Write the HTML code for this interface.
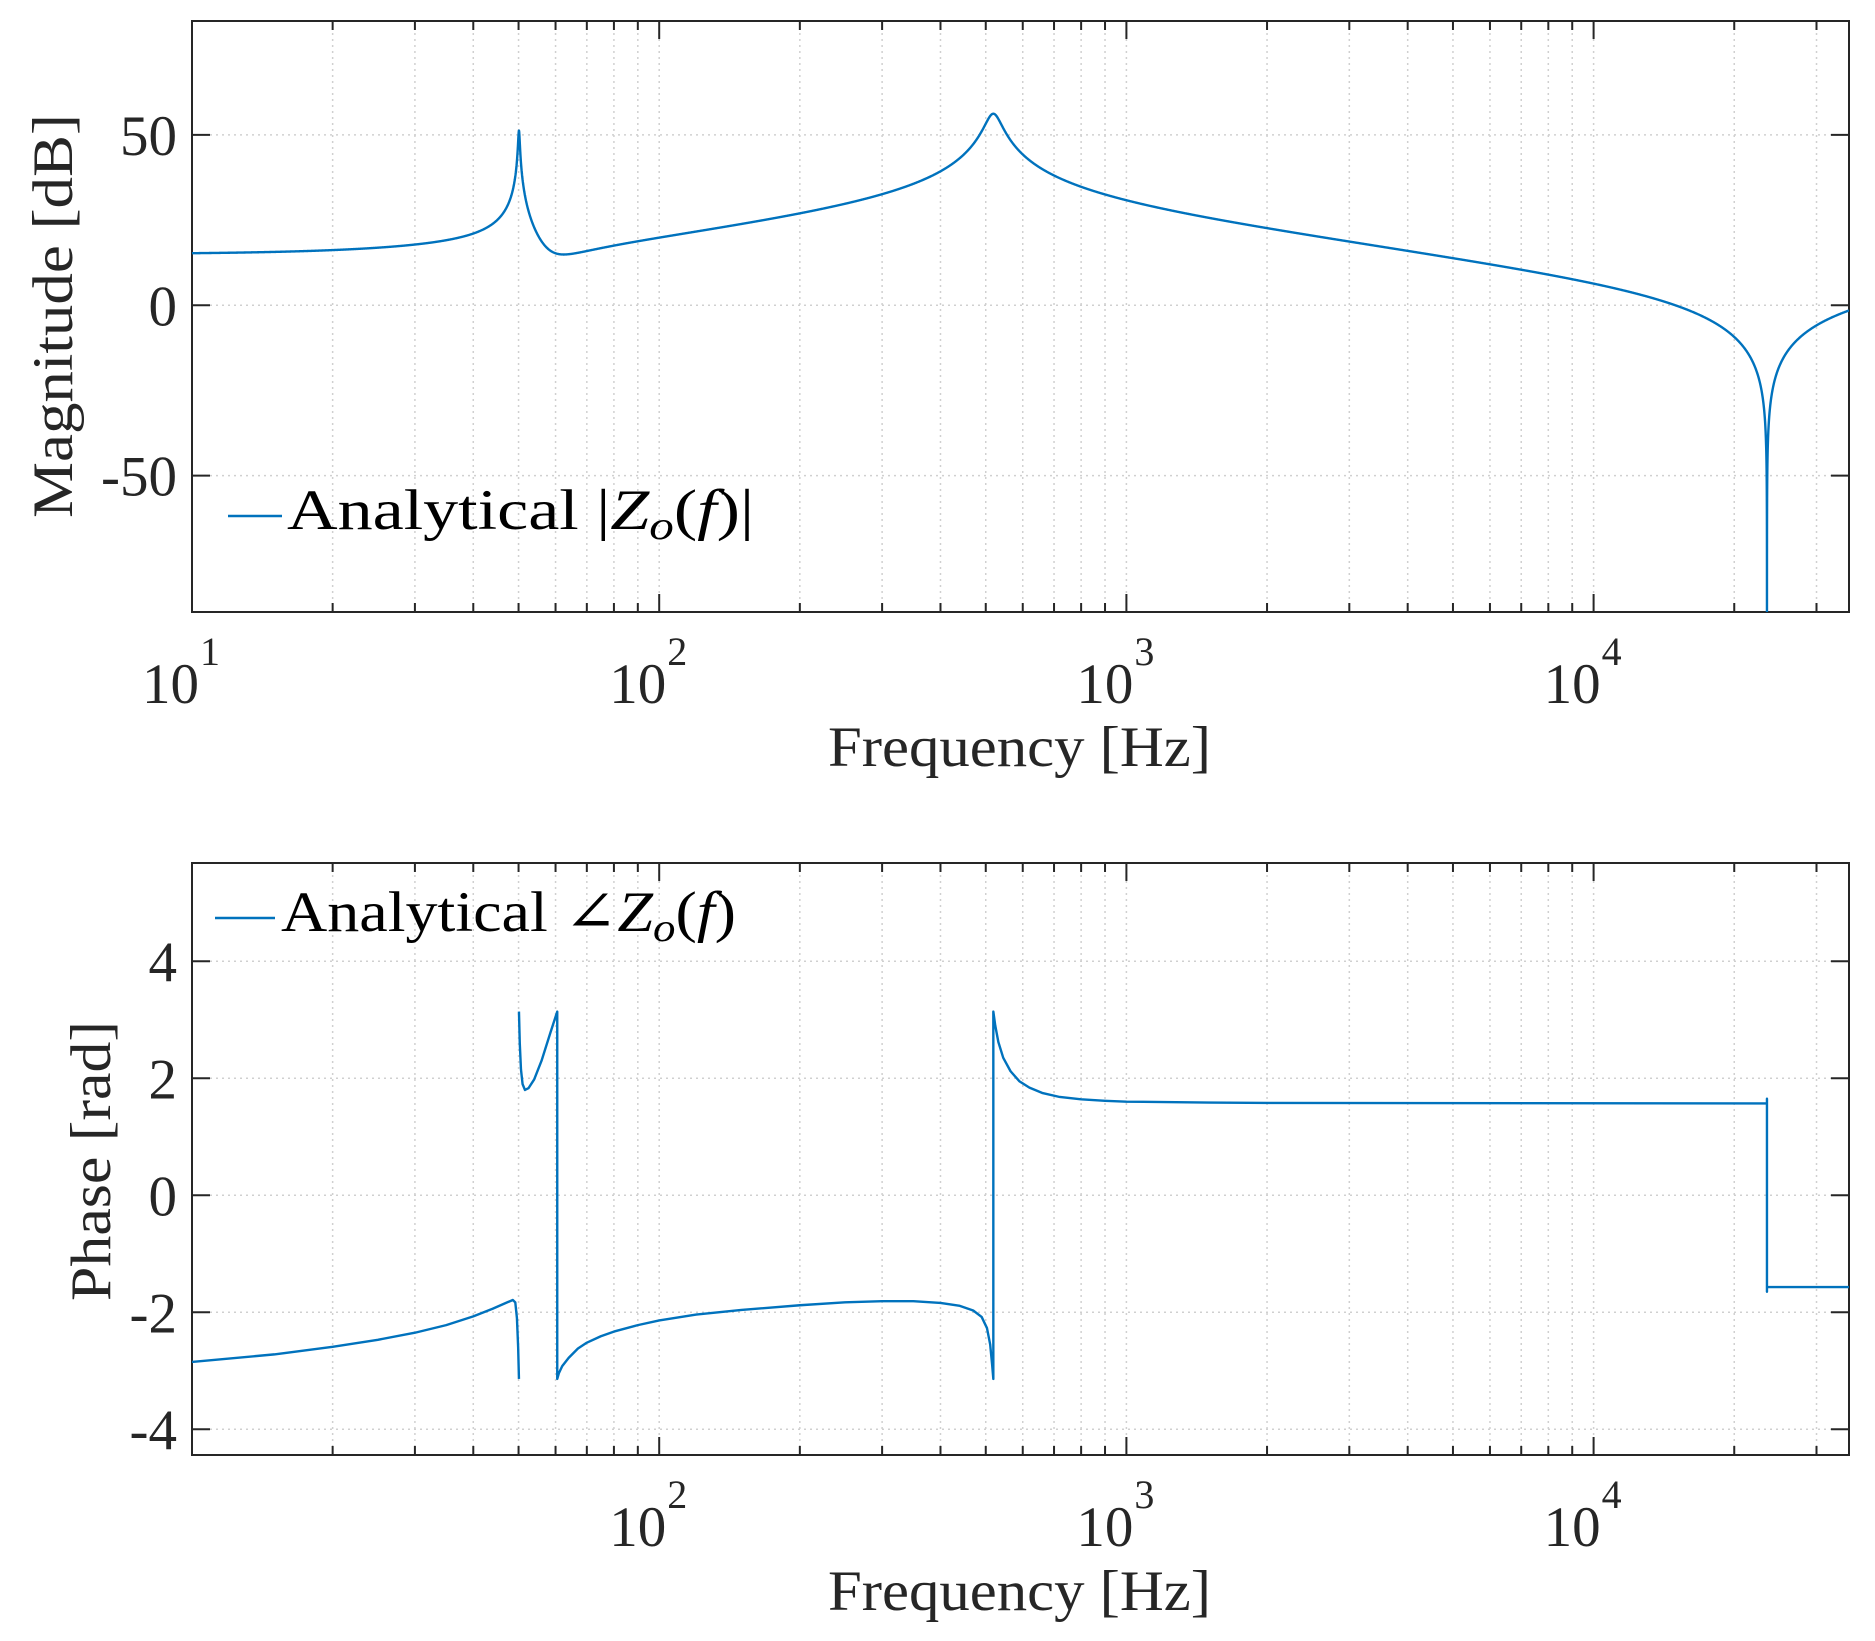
<!DOCTYPE html>
<html><head><meta charset="utf-8"><style>
html,body{margin:0;padding:0;background:#fff;}
svg{display:block;}
text{font-family:"Liberation Serif","DejaVu Serif",serif;}
</style></head><body>
<svg id="s" width="1875" height="1641" xmlns="http://www.w3.org/2000/svg" font-family="Liberation Serif, DejaVu Serif, serif">
<defs>
<clipPath id="c1"><rect x="192" y="21" width="1657" height="591"/></clipPath>
<clipPath id="c2"><rect x="192" y="863" width="1657" height="592"/></clipPath>
</defs>
<g id="g"></g>
<g fill="#262626" font-size="57">
<text x="828" y="766" textLength="383" lengthAdjust="spacingAndGlyphs">Frequency [Hz]</text>
<text x="828" y="1610" textLength="383" lengthAdjust="spacingAndGlyphs">Frequency [Hz]</text>
<text transform="translate(72,316) rotate(-90)" x="-202" textLength="404" lengthAdjust="spacingAndGlyphs">Magnitude [dB]</text>
<text transform="translate(110,1161) rotate(-90)" x="-140" textLength="280" lengthAdjust="spacingAndGlyphs">Phase [rad]</text>
</g>
<g fill="#000" font-size="57">
<line x1="228" y1="516" x2="282" y2="516" stroke="#0072BD" stroke-width="2.4"/>
<text x="287" y="529" textLength="467" lengthAdjust="spacingAndGlyphs">Analytical |<tspan font-style="italic">Z</tspan><tspan font-style="italic" font-size="40" dy="10">o</tspan><tspan dy="-10">(</tspan><tspan font-style="italic">f</tspan>)|</text>
<line x1="215" y1="918" x2="275" y2="918" stroke="#0072BD" stroke-width="2.4"/>
<text x="281" y="931" textLength="455" lengthAdjust="spacingAndGlyphs">Analytical ∠<tspan font-style="italic">Z</tspan><tspan font-style="italic" font-size="40" dy="10">o</tspan><tspan dy="-10">(</tspan><tspan font-style="italic">f</tspan>)</text>
</g>
</svg>
<script>
(function(){
var NS="http://www.w3.org/2000/svg",g=document.getElementById('g');
function el(t,a,p){var e=document.createElementNS(NS,t);for(var k in a)e.setAttribute(k,a[k]);(p||g).appendChild(e);return e;}
var X0=192,X1=1849,DEC=467.2;
function xf(f){return X0+Math.log10(f/10)*DEC;}
var fmax=Math.pow(10,1+(X1-X0)/DEC);
function axes(T,B,ymin,ymax,yt,lab10,ylabs){
  var H=B-T;function yv(v){return B-(v-ymin)/(ymax-ymin)*H;}
  for(var d=1;d<=4;d++)for(var m=1;m<=9;m++){var f=m*Math.pow(10,d);if(f<=10||f>=fmax)continue;var x=xf(f);
    el('line',{x1:x,y1:T,x2:x,y2:B,stroke:'#d0d0d0','stroke-width':1.5,'stroke-dasharray':'2,4'});}
  yt.forEach(function(v){var y=yv(v);el('line',{x1:X0,y1:y,x2:X1,y2:y,stroke:'#d0d0d0','stroke-width':1.5,'stroke-dasharray':'2,4'});});
  for(var d=1;d<=4;d++)for(var m=1;m<=9;m++){var f=m*Math.pow(10,d);if(f<=10||f>=fmax)continue;var x=xf(f);var L=m==1?18:9;
    el('line',{x1:x,y1:B,x2:x,y2:B-L,stroke:'#262626','stroke-width':2});el('line',{x1:x,y1:T,x2:x,y2:T+L,stroke:'#262626','stroke-width':2});}
  yt.forEach(function(v,i){var y=yv(v);el('line',{x1:X0,y1:y,x2:X0+18,y2:y,stroke:'#262626','stroke-width':2});el('line',{x1:X1,y1:y,x2:X1-18,y2:y,stroke:'#262626','stroke-width':2});
    var t=el('text',{x:177,y:y+20,'text-anchor':'end','font-size':57,fill:'#262626','font-family':'Liberation Serif, serif'});t.textContent=ylabs[i];});
  el('rect',{x:X0,y:T,width:X1-X0,height:H,fill:'none',stroke:'#262626','stroke-width':2});
  var by=B+91;
  [1,2,3,4].forEach(function(d){if(d==1&&!lab10)return;var x=xf(Math.pow(10,d));
    var t=el('text',{x:x-50,y:by,'font-size':57,fill:'#262626','font-family':'Liberation Serif, serif'});t.textContent='10';
    var s=el('text',{x:x+8,y:by-38,'font-size':40,fill:'#262626','font-family':'Liberation Serif, serif'});s.textContent=String(d);});
  return yv;
}
var yv1=axes(21,612,-90,83.4,[-50,0,50],true,['-50','0','50']);
var yv2=axes(863,1455,-4.44,5.68,[-4,-2,0,2,4],false,['-4','-2','0','2','4']);
function cm(a,b){return [a[0]*b[0]-a[1]*b[1],a[0]*b[1]+a[1]*b[0]];}
function cd(a,b){var d=b[0]*b[0]+b[1]*b[1];return [(a[0]*b[0]+a[1]*b[1])/d,(a[1]*b[0]-a[0]*b[1])/d];}
function q(f,f0,z){var r=f/f0;return [1-r*r,2*z*r];}
function mag(f){
  var n=[5.6,0];
  n=cm(n,[1,f/45]);
  n=cm(n,q(f,57.5,0.12));
  n=cm(n,q(f,23500,0.00001));
  var d=q(f,50.1,0.0037);
  d=cm(d,q(f,519,0.038));
  d=cm(d,[1,f/90000]);
  var z=cd(n,d);return 20*Math.log10(Math.sqrt(z[0]*z[0]+z[1]*z[1])+1e-12);
}
var pts=[],N=6000;
for(var i=0;i<=N;i++){var f=10*Math.pow(fmax/10,i/N);pts.push(f);}
for(var i=-200;i<=200;i++)pts.push(23500*(1+i*0.00002));
for(var i=-200;i<=200;i++)pts.push(50.1*(1+i*0.0002));
pts.sort(function(a,b){return a-b;});
var dstr='';pts.forEach(function(f,i){var v=Math.max(-200,mag(f));dstr+=(i?'L':'M')+xf(f).toFixed(2)+' '+yv1(v).toFixed(2);});
var gc1=el('g',{'clip-path':'url(#c1)'});
el('path',{d:dstr,fill:'none',stroke:'#0072BD','stroke-width':2.4,'stroke-linejoin':'round'},gc1);
var P=[[10,-2.85],[15,-2.72],[20,-2.59],[25,-2.47],[30,-2.35],[35,-2.22],[40,-2.07],[44,-1.94],[47,-1.84],[48.6,-1.79],[49.2,-1.83],[49.6,-2.1],[49.9,-2.6],[50.1,-3.14],'M',[50.1,3.14],[50.3,2.6],[50.6,2.15],[51,1.9],[51.6,1.8],[52.5,1.83],[54,1.98],[56,2.3],[58.5,2.78],[60.5,3.14],'L',[60.5,-3.14],[61,-3.04],[62,-2.92],[64,-2.78],[67,-2.62],[70,-2.52],[75,-2.41],[80,-2.33],[90,-2.22],[100,-2.14],[120,-2.04],[150,-1.96],[200,-1.88],[250,-1.83],[300,-1.81],[350,-1.81],[400,-1.84],[440,-1.89],[470,-1.97],[490,-2.08],[503,-2.27],[511,-2.55],[516,-2.9],[519,-3.14],'L',[519,3.14],[524,2.9],[532,2.62],[545,2.35],[565,2.12],[590,1.95],[620,1.84],[660,1.75],[720,1.68],[800,1.64],[900,1.615],[1000,1.6],[1500,1.585],[2000,1.578],[23500,1.57],'L',[23500,1.65],[23500,-1.65],[23500,-1.57],[fmax,-1.57]];
var ps='',cmd='M';
P.forEach(function(p){if(typeof p=='string'){cmd=p;return;}ps+=cmd+xf(p[0]).toFixed(2)+' '+yv2(p[1]).toFixed(2);cmd='L';});
var gc2=el('g',{'clip-path':'url(#c2)'});
el('path',{d:ps,fill:'none',stroke:'#0072BD','stroke-width':2.4,'stroke-linejoin':'round'},gc2);
})();
</script>
</body></html>
